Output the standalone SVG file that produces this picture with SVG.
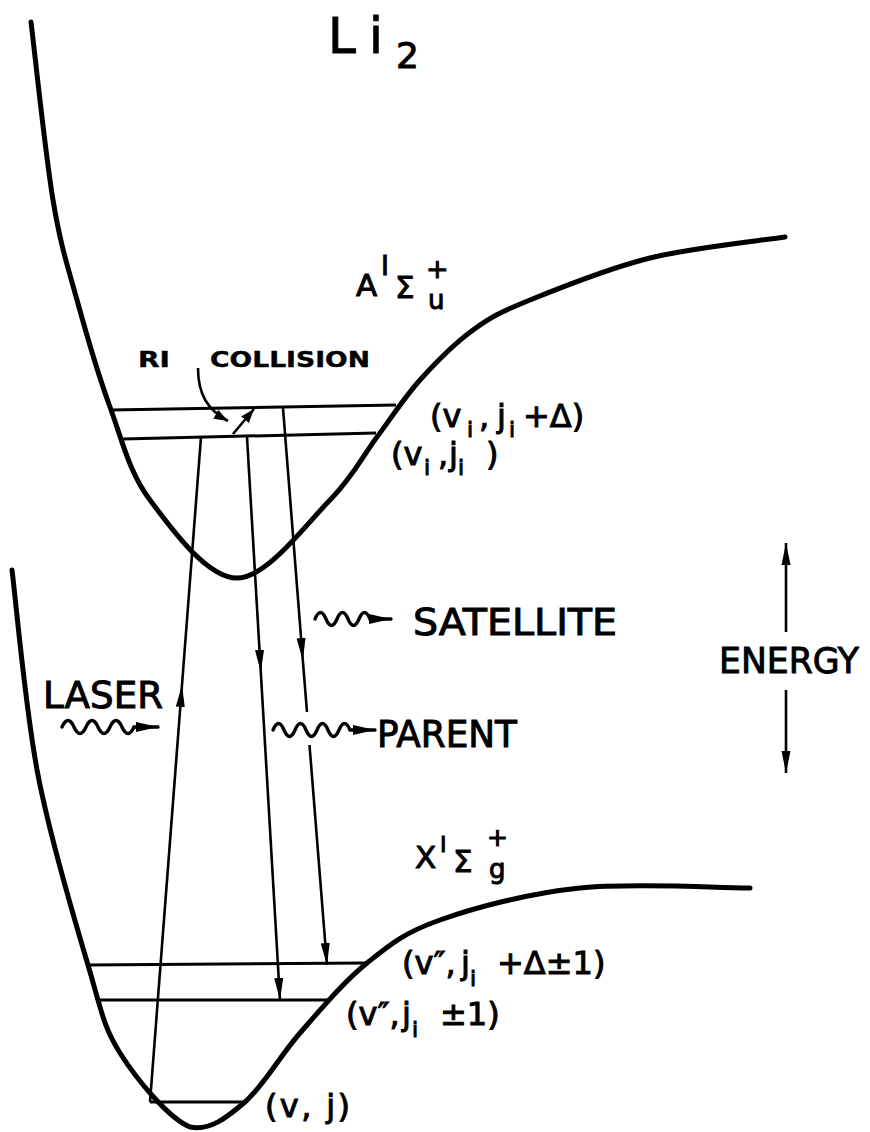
<svg xmlns="http://www.w3.org/2000/svg" width="870" height="1132" viewBox="0 0 870 1132">
<defs>
<style>
.curve{fill:none;stroke:#000;stroke-width:5;stroke-linecap:round;stroke-linejoin:round}
.lvl{stroke:#000;stroke-width:3;fill:none}
.tr{stroke:#000;stroke-width:2.6;fill:none}
.wave{fill:none;stroke:#000;stroke-width:3.4;stroke-linecap:round}
.t{font-family:"DejaVu Sans","Liberation Sans",sans-serif;fill:#000;stroke:#000;stroke-width:1}
.b{font-weight:bold;stroke-width:0.4}
</style>
<marker id="ah" markerUnits="userSpaceOnUse" markerWidth="24" markerHeight="12" refX="22" refY="6" orient="auto"><path d="M0,1.5 L22,6 L0,10.5 z" fill="#000"/></marker>
<marker id="sh" markerUnits="userSpaceOnUse" markerWidth="16" markerHeight="12" refX="14" refY="6" orient="auto"><path d="M0,1 L14,6 L0,11 z" fill="#000"/></marker>
<marker id="wh" markerUnits="userSpaceOnUse" markerWidth="24" markerHeight="12" refX="22" refY="6" orient="auto"><path d="M0,1 L22,6 L0,11 z" fill="#000"/></marker>
</defs>
<rect width="870" height="1132" fill="#fff"/>

<g id="curve-A">
<path class="curve" d="M31,22 C34.7,51.7 45.3,153.7 53,200 C60.7,246.3 67.5,265.5 77,300 C86.5,334.5 97.8,373.7 110,407 C122.2,440.3 128.8,471.5 150,500 C171.2,528.5 207,578 237,578 C267,578 306.7,523.5 330,500 C353.3,476.5 362,457 377,437 C392,417 404,397.8 420,380 C436,362.2 454.7,343.3 473,330 C491.3,316.7 500.5,312 530,300 C559.5,288 607.5,268.5 650,258 C692.5,247.5 762.5,240.5 785,237"/>
</g>
<g id="curve-X">
<path class="curve" d="M12,570 C16.3,604.2 25.3,709.2 38,775 C50.7,840.8 74.3,918.7 88,965 C101.7,1011.3 103,1026 120,1053 C137,1080 169.2,1118.8 190,1127 C210,1131 226.7,1117.7 245,1102 C263.3,1086.3 279.7,1056.2 300,1033 C320.3,1009.8 343.7,981.8 367,963 C390.3,944.2 404.5,932.5 440,920 C475.5,907.5 528.3,893.3 580,888 C631.7,882.7 721.7,888 750,888"/>
</g>

<g id="levels">
<line class="lvl" x1="111" y1="410" x2="396" y2="405"/>
<line class="lvl" x1="123" y1="439" x2="376" y2="433"/>
<line class="lvl" x1="87" y1="965" x2="367" y2="963"/>
<line class="lvl" x1="98" y1="1000" x2="328" y2="1000"/>
<line class="lvl" x1="150" y1="1102" x2="245" y2="1102"/>
</g>

<g id="connectors">
<path class="tr" d="M150,1102 L182,685" marker-end="url(#ah)"/>
<path class="tr" d="M182,685 L201,437"/>
<path class="tr" d="M247,437 L260.8,672" marker-end="url(#ah)"/>
<path class="tr" d="M260.8,672 L280,1000" marker-end="url(#ah)"/>
<path class="tr" d="M283,408 L302.8,660" marker-end="url(#ah)"/>
<path class="tr" d="M302.8,660 L307,712"/>
<path class="tr" d="M309.5,745 L327,965" marker-end="url(#ah)"/>
<path class="tr" d="M198,368 C198,395 208,410 228,421" marker-end="url(#sh)"/>
<path class="tr" d="M233,434 L254,409" marker-end="url(#sh)"/>
<path class="tr" d="M786,632 L786,543" marker-end="url(#ah)"/>
<path class="tr" d="M786,690 L786,773" marker-end="url(#ah)"/>
<path class="wave" d="M62,727 q6,-13 12,0 t12,0 t12,0 t12,0 t12,0 t12,0 h24" marker-end="url(#wh)"/>
<path class="wave" d="M315,619 q5.5,-13 11,0 t11,0 t11,0 t11,0 t11,0 h21" marker-end="url(#wh)"/>
<path class="wave" d="M273,730 q5.5,-13 11,0 t11,0 t11,0 t11,0 t11,0 t11,0 t11,0 h25" marker-end="url(#wh)"/>
</g>

<g id="label-Li2">
<text class="t" font-size="50"><tspan x="328" y="53">L</tspan><tspan x="369" y="53">i</tspan><tspan x="396" y="68" font-size="36">2</tspan></text>
</g>
<g id="label-A">
<text class="t" font-size="31"><tspan x="356" y="296">A</tspan><tspan x="381" y="275" font-size="27">I</tspan><tspan x="395" y="298" font-size="31">Σ</tspan><tspan x="426" y="278" font-size="27">+</tspan><tspan x="428" y="309" font-size="26">u</tspan></text>
</g>
<g id="label-X">
<text class="t" font-size="31"><tspan x="415" y="868">X</tspan><tspan x="440" y="852" font-size="22">I</tspan><tspan x="453" y="872" font-size="31">Σ</tspan><tspan x="487" y="846" font-size="25">+</tspan><tspan x="489" y="878" font-size="26">g</tspan></text>
</g>
<g id="label-collision">
<text class="t b" font-size="22" x="138" y="367" textLength="32" lengthAdjust="spacingAndGlyphs">RI</text>
<text class="t b" font-size="22" x="210" y="367" textLength="160" lengthAdjust="spacingAndGlyphs">COLLISION</text>
</g>
<g id="label-vi-upper">
<text class="t" font-size="32"><tspan x="430" y="427">(v</tspan><tspan x="467" y="437" font-size="22">i</tspan><tspan x="479" y="427">,</tspan><tspan x="497" y="427">j</tspan><tspan x="509" y="437" font-size="22">i</tspan><tspan x="523" y="427">+Δ)</tspan></text>
</g>
<g id="label-vi-lower">
<text class="t" font-size="32"><tspan x="391" y="465">(v</tspan><tspan x="424" y="475" font-size="22">i</tspan><tspan x="438" y="465">,</tspan><tspan x="449" y="465">j</tspan><tspan x="458" y="475" font-size="22">i</tspan><tspan x="486" y="465">)</tspan></text>
</g>
<g id="label-v2-upper">
<text class="t" font-size="32"><tspan x="402" y="974">(v″,</tspan><tspan x="461" y="974">j</tspan><tspan x="470" y="986" font-size="22">i</tspan><tspan x="497" y="974">+Δ±1)</tspan></text>
</g>
<g id="label-v2-lower">
<text class="t" font-size="32"><tspan x="346" y="1025">(v″,</tspan><tspan x="402" y="1025">j</tspan><tspan x="412" y="1037" font-size="22">i</tspan><tspan x="440" y="1025">±1)</tspan></text>
</g>
<g id="label-vj">
<text class="t" font-size="32" x="265" y="1117" textLength="85" lengthAdjust="spacing">(v, j)</text>
</g>
<g id="label-energy">
<text class="t" font-size="36" x="719" y="673" textLength="140" lengthAdjust="spacingAndGlyphs">ENERGY</text>
</g>
<g id="label-laser">
<text class="t" font-size="37" x="43" y="708" textLength="120" lengthAdjust="spacingAndGlyphs">LASER</text>
</g>
<g id="label-satellite">
<text class="t" font-size="37" x="413" y="635" textLength="204" lengthAdjust="spacingAndGlyphs">SATELLITE</text>
</g>
<g id="label-parent">
<text class="t" font-size="37" x="377" y="747" textLength="140" lengthAdjust="spacingAndGlyphs">PARENT</text>
</g>
</svg>
